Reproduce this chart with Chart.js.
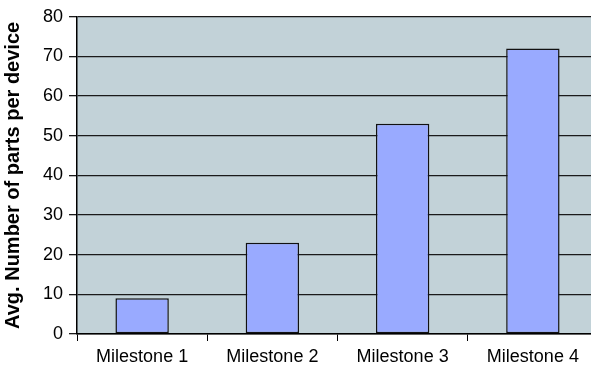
<!DOCTYPE html>
<html>
<head>
<meta charset="utf-8">
<title>Parts per device</title>
<script src="https://cdn.jsdelivr.net/npm/chart.js@4.4.0/dist/chart.umd.min.js"></script>
<style>
    html, body { margin: 0; padding: 0; background: #fff; overflow: hidden; }
    #wrap { width: 600px; height: 365px; }
</style>
</head>
<body>
<div id="wrap"><canvas id="partsChart" width="600" height="365"></canvas></div>
<script>
// Milestones and average part counts
const milestones = ['Milestone 1', 'Milestone 2', 'Milestone 3', 'Milestone 4'];
const partsPerDevice = [9, 23, 53, 72];
const yMin = 0;
const yMax = 80;
const yStep = 10;

// grey-blue fill behind the plot area
const plotBackground = {
    id: 'plotBackground',
    beforeDraw(chart) {
        const { ctx, chartArea: a } = chart;
        ctx.save();
        ctx.fillStyle = '#c2d2d8';
        ctx.fillRect(a.left, a.top, a.right - a.left, a.bottom - a.top);
        ctx.restore();
    }
};

const fontFamily = '"Liberation Sans", Arial, sans-serif';

new Chart(document.getElementById('partsChart').getContext('2d'), {
    type: 'bar',
    data: {
        labels: milestones,
        datasets: [{
            data: partsPerDevice,
            backgroundColor: '#99aaff',
            borderColor: '#111',
            borderWidth: 1.5,
            borderSkipped: false,
            categoryPercentage: 1,
            barPercentage: 0.41
        }]
    },
    options: {
        responsive: false,
        animation: false,
        devicePixelRatio: 1,
        layout: { padding: { top: 14, right: 2, left: 0, bottom: 0 } },
        plugins: {
            legend: { display: false },
            tooltip: { enabled: false }
        },
        scales: {
            x: {
                grid: {
                    drawOnChartArea: false,
                    drawTicks: true,
                    tickLength: 7,
                    color: '#000'
                },
                border: { color: '#000', width: 1.5 },
                ticks: { color: '#000', font: { family: fontFamily, size: 18 }, padding: 5, maxRotation: 0 },
                afterFit(scale) { scale.height = 31; }
            },
            y: {
                min: yMin,
                max: yMax,
                grid: {
                    color: '#1a1a1a',
                    lineWidth: 1.3,
                    tickLength: 8
                },
                border: { color: '#000', width: 1.5 },
                ticks: { stepSize: yStep, color: '#000', font: { family: fontFamily, size: 18 }, padding: 6 },
                title: {
                    display: true,
                    text: 'Avg. Number of parts per device',
                    color: '#000',
                    font: { family: fontFamily, size: 20, weight: 'bold' },
                    padding: { top: 1, bottom: 0 }
                },
                afterFit(scale) { scale.width = 77; }
            }
        }
    },
    plugins: [plotBackground]
});
</script>
</body>
</html>
